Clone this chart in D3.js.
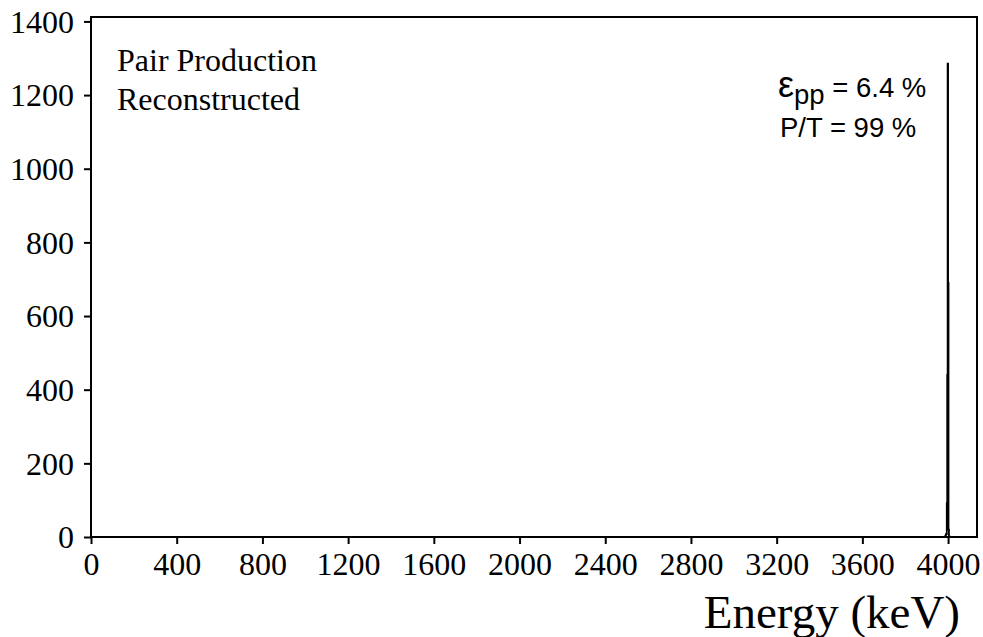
<!DOCTYPE html>
<html><head><meta charset="utf-8">
<script src="https://cdn.jsdelivr.net/npm/d3@7"></script>
<style>body{margin:0;background:#fff}svg{display:block}</style>
</head><body>
<svg id="c" width="983" height="637"></svg>
<script>
// Data
const binEdges = [3986, 3990, 3994, 3996, 3998, 4000, 4002, 4004, 4008];
const binCounts = [2, 8, 92, 440, 1285, 690, 20, 1];
const xTicks = [0,400,800,1200,1600,2000,2400,2800,3200,3600,4000];
const yTicks = [0,200,400,600,800,1000,1200,1400];
const labelLines = ["Pair Production","Reconstructed"];

const svg = d3.select("#c");
const L = 91, T = 17, R = 977, B = 537;
const x = d3.scaleLinear().domain([0, 4135]).range([L, R]);
const y = d3.scaleLinear().domain([0, 1412]).range([B, T]);

// frame
svg.append("rect").attr("x",L).attr("y",T).attr("width",R-L).attr("height",B-T)
  .attr("fill","none").attr("stroke","#000").attr("stroke-width",2);

// histogram as step line
const pts = [[binEdges[0],0]];
binCounts.forEach((c,i)=>{ pts.push([binEdges[i],c]); pts.push([binEdges[i+1],c]); });
pts.push([binEdges[binEdges.length-1],0]);
svg.append("path").attr("d", d3.line().x(d=>x(d[0])).y(d=>y(d[1]))(pts))
  .attr("fill","none").attr("stroke","#000").attr("stroke-width",1.8);

// axes
const ya = svg.append("g").attr("transform",`translate(${L},0)`)
  .call(d3.axisLeft(y).tickValues(yTicks).tickSize(7).tickPadding(10).tickFormat(d3.format("d")));
const xa = svg.append("g").attr("transform",`translate(0,${B})`)
  .call(d3.axisBottom(x).tickValues(xTicks).tickSize(7).tickPadding(8).tickFormat(d3.format("d")));
[ya,xa].forEach(g=>{
  g.select(".domain").remove();
  g.selectAll("line").attr("stroke","#000").attr("stroke-width",2);
  g.selectAll("text").attr("font-family","'Liberation Serif','Times New Roman',serif")
    .attr("font-size",32).attr("fill","#000");
});
ya.selectAll("text").attr("dy","0.34em");
xa.selectAll("text").attr("dy","0.72em");

// labels
svg.selectAll("text.lab").data(labelLines).enter().append("text").attr("class","lab")
  .attr("x",117).attr("y",(d,i)=>71+i*39).text(d=>d)
  .attr("font-family","'Liberation Serif','Times New Roman',serif").attr("font-size",32).attr("fill","#000");

const t1 = svg.append("text").attr("x",778).attr("y",97)
  .attr("font-family","'Liberation Sans',Arial,sans-serif").attr("font-size",27.5).attr("fill","#000");
t1.append("tspan").text("ε").attr("font-size",36);
t1.append("tspan").text("pp").attr("dy",7);
t1.append("tspan").text(" = 6.4 %").attr("dy",-7);
svg.append("text").attr("x",780).attr("y",137).text("P/T = 99 %")
  .attr("font-family","'Liberation Sans',Arial,sans-serif").attr("font-size",27.5).attr("fill","#000");

svg.append("text").attr("x",960).attr("y",628).attr("text-anchor","end").text("Energy (keV)")
  .attr("font-family","'Liberation Serif','Times New Roman',serif").attr("font-size",47).attr("fill","#000");
</script>
</body></html>
